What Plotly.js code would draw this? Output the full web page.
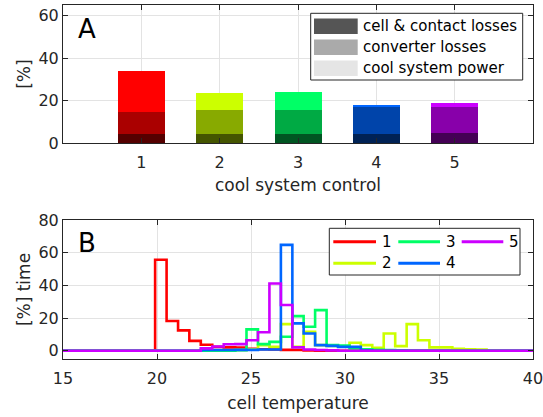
<!DOCTYPE html>
<html>
<head>
<meta charset="utf-8">
<script src="https://cdn.plot.ly/plotly-3.0.1.min.js"></script>
<style>html,body{margin:0;padding:0;background:#fff;}#chart{width:543px;height:417px;}</style>
</head>
<body>
<div id="chart"></div>
<script>
// ---- Panel A data ----
const categories = [1, 2, 3, 4, 5];
const cellLosses = [4.5, 4.5, 4.5, 4.5, 4.8];
const converterLosses = [10.3, 11.1, 11.1, 12.5, 12.2];
const coolPower = [19.0, 7.9, 8.4, 0.9, 1.8];
const legendNamesA = ['cell & contact losses', 'converter losses', 'cool system power'];
const colorsCell = ['#550000', '#445500', '#005522', '#002255', '#440055'];
const colorsConv = ['#aa0000', '#88aa00', '#00aa44', '#0044aa', '#8800aa'];
const colorsCool = ['#ff0000', '#ccff00', '#00ff66', '#0066ff', '#cc00ff'];
const legendColorsA = ['#555555', '#aaaaaa', '#e5e5e5'];

// ---- Panel B data (histogram outlines, bin edges in cell temperature) ----
const binEdges = [15, 19.90, 20.51, 21.12, 21.72, 22.33, 22.94, 23.55, 24.16, 24.76, 25.37, 25.98, 26.59, 27.20, 27.80, 28.41, 29.02, 29.63, 30.24, 30.84, 31.45, 32.06, 32.67, 33.28, 33.88, 34.49, 35.10, 35.71, 36.32, 36.92, 37.53, 38.14, 40];
const time1 = [0, 55.7, 18.2, 12.5, 6.1, 3.7, 2.4, 2.1, 2.0, 1.2, 1.0, 0.8, 0.6, 0.5, 0.3, 0, 0, 0, 0, 0, 0, 0, 0, 0, 0, 0, 0, 0, 0, 0, 0, 0, 0];
const time2 = [0, 0, 0, 0, 0, 0, 0, 0, 0.5, 1.0, 3.5, 2.4, 16.3, 2.4, 11.6, 3.5, 3.0, 2.5, 4.9, 3.5, 1.8, 10.6, 2.9, 16.3, 6.5, 2.1, 2.1, 1.2, 1.0, 0.8, 0.3, 0, 0];
const time3 = [0, 0, 0, 0, 0, 0, 0, 0, 0.4, 13.1, 4.1, 5.5, 8.6, 21.2, 14.7, 24.9, 3.5, 3.3, 1.5, 1.0, 0.6, 0.4, 0.3, 0, 0, 0, 0, 0, 0, 0, 0, 0, 0];
const time4 = [0, 0, 0, 0, 0, 0.5, 0.5, 0.5, 0.6, 0.6, 0.8, 0.8, 64.8, 16.8, 10.6, 3.5, 3.0, 2.4, 2.4, 0.3, 0, 0, 0, 0, 0, 0, 0, 0, 0, 0, 0, 0, 0];
const time5 = [0, 0, 0, 0, 0, 1.5, 2.6, 4.0, 4.1, 6.5, 11.4, 41.2, 28.0, 2.1, 0.8, 0.5, 0.3, 0, 0, 0, 0, 0, 0, 0, 0, 0, 0, 0, 0, 0, 0, 0, 0];
const seriesNames = ['1', '2', '3', '4', '5'];
const seriesColors = ['#ff0000', '#ccff00', '#00ff66', '#0066ff', '#cc00ff'];
const seriesTimes = [time1, time2, time3, time4, time5];

const xTicksA = [1, 2, 3, 4, 5];
const yTicksA = [0, 20, 40, 60];
const xTicksB = [15, 20, 25, 30, 35, 40];
const yTicksB = [0, 20, 40, 60, 80];

// ---- layout helpers (pixel -> paper) ----
const W = 543, H = 417, ML = 63, MR = 10, MT = 5, MB = 58;
const PW = W - ML - MR, PH = H - MT - MB;
const px = v => (v - ML) / PW;
const py = v => (H - MB - v) / PH;
const FONT = 'DejaVu Sans';
const TXT = '#262626';

const traces = [];
traces.push({type: 'bar', x: categories, y: cellLosses, marker: {color: colorsCell, line: {width: 0}}, width: 0.6, showlegend: false, xaxis: 'x', yaxis: 'y', name: legendNamesA[0]});
traces.push({type: 'bar', x: categories, y: converterLosses, marker: {color: colorsConv, line: {width: 0}}, width: 0.6, showlegend: false, xaxis: 'x', yaxis: 'y', name: legendNamesA[1]});
traces.push({type: 'bar', x: categories, y: coolPower, marker: {color: colorsCool, line: {width: 0}}, width: 0.6, showlegend: false, xaxis: 'x', yaxis: 'y', name: legendNamesA[2]});
for (let i = 0; i < 5; i++) {
  traces.push({type: 'scatter', mode: 'lines', x: binEdges, y: seriesTimes[i], line: {shape: 'hv', color: seriesColors[i], width: 2.6}, name: seriesNames[i], showlegend: false, xaxis: 'x2', yaxis: 'y2'});
}

const shapes = [];
const annotations = [];
// Legend A
shapes.push({type: 'rect', xref: 'paper', yref: 'paper', x0: px(310.7), x1: px(522.7), y0: py(80), y1: py(13.3), line: {color: TXT, width: 1}, fillcolor: '#ffffff', layer: 'above'});
const rowsA = [26.2, 47.2, 68.2];
for (let i = 0; i < 3; i++) {
  shapes.push({type: 'rect', xref: 'paper', yref: 'paper', x0: px(314), x1: px(357.7), y0: py(rowsA[i] + 7.8), y1: py(rowsA[i] - 7.8), line: {width: 0}, fillcolor: legendColorsA[i], layer: 'above'});
  annotations.push({xref: 'paper', yref: 'paper', x: px(361), y: py(rowsA[i]), text: legendNamesA[i], showarrow: false, xanchor: 'left', yanchor: 'middle', font: {family: FONT, size: 15, color: '#000'}});
}
// Legend B
shapes.push({type: 'rect', xref: 'paper', yref: 'paper', x0: px(329.3), x1: px(520), y0: py(275), y1: py(228.3), line: {color: TXT, width: 1}, fillcolor: '#ffffff', layer: 'above'});
const legB = [[0, 333.3, 376, 241.7], [2, 398.3, 440, 241.7], [4, 461.7, 503.3, 241.7], [1, 333.3, 376, 263.3], [3, 398.3, 440, 263.3]];
legB.forEach(e => {
  const [idx, a, b, yy] = e;
  shapes.push({type: 'line', xref: 'paper', yref: 'paper', x0: px(a), x1: px(b), y0: py(yy), y1: py(yy), line: {color: seriesColors[idx], width: 3}, layer: 'above'});
  annotations.push({xref: 'paper', yref: 'paper', x: px(b + 4), y: py(yy), text: seriesNames[idx], showarrow: false, xanchor: 'left', yanchor: 'middle', font: {family: FONT, size: 15, color: '#000'}});
});
// Panel letters
annotations.push({xref: 'paper', yref: 'paper', x: px(76), y: py(29), text: 'A', showarrow: false, xanchor: 'left', yanchor: 'middle', font: {family: FONT, size: 26, color: '#000'}});
annotations.push({xref: 'paper', yref: 'paper', x: px(76), y: py(243), text: 'B', showarrow: false, xanchor: 'left', yanchor: 'middle', font: {family: FONT, size: 26, color: '#000'}});

const axCommon = {
  showline: true, linecolor: TXT, linewidth: 1, mirror: 'ticks', ticks: 'inside', ticklen: 5, tickcolor: TXT,
  showgrid: true, gridcolor: '#e3e3e3', gridwidth: 1, zeroline: false, ticklabeloverflow: 'allow',
  tickfont: {family: FONT, size: 16, color: TXT}
};

const layout = {
  width: W, height: H,
  margin: {l: ML, r: MR, t: MT, b: MB},
  paper_bgcolor: '#ffffff', plot_bgcolor: '#ffffff',
  barmode: 'stack', showlegend: false,
  font: {family: FONT, color: TXT},
  xaxis: Object.assign({}, axCommon, {domain: [0, 1], range: [0, 6], tickvals: xTicksA, ticktext: xTicksA.map(String), anchor: 'y', ticklabelstandoff: 4,
    title: {text: 'cool system control', font: {family: FONT, size: 17, color: TXT}, standoff: 8}}),
  yaxis: Object.assign({}, axCommon, {domain: [py(143.3), 1], range: [0, 65], tickvals: yTicksA, ticktext: yTicksA.map(String), anchor: 'x',
    title: {text: '[%]', font: {family: FONT, size: 17, color: TXT}, standoff: 3}}),
  xaxis2: Object.assign({}, axCommon, {domain: [0, 1], range: [15, 40], tickvals: xTicksB, ticktext: xTicksB.map(String), anchor: 'y2', ticklabelstandoff: 5,
    title: {text: 'cell temperature', font: {family: FONT, size: 17, color: TXT}, standoff: 9}}),
  yaxis2: Object.assign({}, axCommon, {domain: [0, py(220)], range: [-5, 80], tickvals: yTicksB, ticktext: yTicksB.map(String), anchor: 'x2',
    title: {text: '[%] time', font: {family: FONT, size: 17, color: TXT}, standoff: 3}}),
  shapes: shapes,
  annotations: annotations
};

Plotly.newPlot('chart', traces, layout, {displayModeBar: false, staticPlot: true});
</script>
</body>
</html>
